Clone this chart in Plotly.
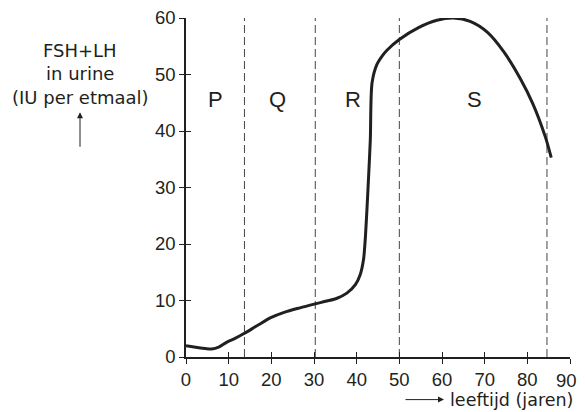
import plotly.graph_objects as go

# Data
leeftijd = [0, 3, 4.5, 6, 7.8, 9.5, 11.5, 13.7, 17, 20, 23, 26.7, 30.3, 33, 35.4,
            37.7, 39.7, 40.8, 41.6, 42.0, 42.4, 42.8, 43.2, 43.6, 44.7, 46.0,
            47.1, 50.0, 54.5, 58.8, 62.7, 66.6, 70.6, 74.5, 78.4, 81.3, 84.2, 85.6]
fsh_lh = [2.0, 1.65, 1.5, 1.4, 1.8, 2.6, 3.3, 4.2, 5.7, 7.0, 7.9, 8.7, 9.4, 9.9, 10.4,
          11.3, 12.8, 14.5, 17.2, 20.7, 26.0, 32.0, 38.5, 48.5, 51.7, 53.3,
          54.3, 56.2, 58.3, 59.6, 60.0, 59.4, 57.5, 54.0, 49.2, 44.8, 39.0, 35.3]

fase_grenzen = [13.7, 30.3, 50, 84.6]
fase_labels = ["P", "Q", "R", "S"]
fase_label_x = [6.8, 21.5, 39.2, 67.6]
fase_label_y = 45.5

x_ticks = list(range(0, 91, 10))
x_ticktext = [str(v) for v in x_ticks[:-1]] + [""]   # last label drawn as annotation
x_last_label = str(x_ticks[-1])
y_ticks = list(range(0, 61, 10))

INK = "#231f20"
FONT = "DejaVu Sans, Arial, sans-serif"
TICKFONT = "Liberation Sans, Arial, sans-serif"

fig = go.Figure()
fig.add_trace(go.Scatter(x=leeftijd, y=fsh_lh, mode="lines",
                         line=dict(color=INK, width=3, shape="spline", smoothing=0.8),
                         hoverinfo="skip", showlegend=False, cliponaxis=False))
# invisible trace for overlay axes (inside tick halves)
fig.add_trace(go.Scatter(x=[0], y=[0], xaxis="x2", yaxis="y2", mode="markers",
                         marker=dict(opacity=0), showlegend=False, hoverinfo="skip"))

shapes = []
for g in fase_grenzen:
    shapes.append(dict(type="line", xref="x", yref="y", x0=g, x1=g, y0=0, y1=60,
                       line=dict(color="#444444", width=1, dash="8px,4px"), layer="below"))

annotations = []
for lab, lx in zip(fase_labels, fase_label_x):
    annotations.append(dict(x=lx, y=fase_label_y, xref="x", yref="y", text=lab,
                            showarrow=False, font=dict(size=22, color=INK, family=TICKFONT)))

# plot-area geometry (reference pixels); page has 8px body offset
L = 186
W = 384
B = 357.3
H = 339.8
OFF = 8
FIG_W = 585 - OFF
FIG_H = 412 - OFF
def px(xp):
    return (xp - L) / W
def py(yp):
    return (B - yp) / H

# last x tick label, nudged left so it stays inside the visible page
annotations.append(dict(x=x_ticks[-1], y=0, xref="x", yref="y", text=x_last_label,
                        showarrow=False, xanchor="center", yanchor="top",
                        xshift=-4, yshift=-11,
                        font=dict(size=18.5, color=INK, family=TICKFONT)))

for txt, yy in [("FSH+LH", 50), ("in urine", 73.5), ("(IU per etmaal)", 97)]:
    annotations.append(dict(x=px(80), y=py(yy), xref="paper", yref="paper", text=txt,
                            showarrow=False, xanchor="center", yanchor="middle",
                            font=dict(size=18, color=INK, family=FONT)))
annotations.append(dict(x=px(80), y=py(112), xref="paper", yref="paper", text="",
                        showarrow=True, ax=0, ay=36,
                        arrowhead=2, arrowsize=1.2, arrowwidth=1, arrowcolor=INK))
# x-axis title
annotations.append(dict(x=px(444), y=py(400), xref="paper", yref="paper", text="",
                        showarrow=True, ax=-40, ay=0,
                        arrowhead=2, arrowsize=1.2, arrowwidth=1, arrowcolor=INK))
annotations.append(dict(x=px(448), y=py(400), xref="paper", yref="paper",
                        text="leeftijd (jaren)", showarrow=False,
                        xanchor="left", yanchor="middle",
                        font=dict(size=17.5, color=INK, family=FONT)))

axis_common = dict(showgrid=False, zeroline=False, ticklen=5, tickwidth=1.3,
                   tickcolor=INK, showline=True, linecolor=INK, linewidth=1.5,
                   ticklabeloverflow="allow", automargin=False,
                   tickfont=dict(size=18.5, color=INK, family=TICKFONT))

fig.update_layout(
    width=FIG_W, height=FIG_H,
    margin=dict(l=L - OFF, r=FIG_W - (L - OFF) - W, t=B - H - OFF, b=FIG_H - (B - OFF),
                pad=0, autoexpand=False),
    paper_bgcolor="white", plot_bgcolor="white",
    showlegend=False,
    shapes=shapes, annotations=annotations,
    xaxis=dict(range=[0, 90], tickvals=x_ticks, ticktext=x_ticktext, ticks="outside",
               **axis_common),
    yaxis=dict(range=[0, 60], tickvals=y_ticks, ticks="outside", **axis_common),
    xaxis2=dict(range=[0, 90], tickvals=x_ticks, ticks="inside", overlaying="x",
                showticklabels=False, showgrid=False, zeroline=False, ticklen=5,
                tickwidth=1.3, tickcolor=INK, showline=False, anchor="y2", automargin=False),
    yaxis2=dict(range=[0, 60], tickvals=y_ticks, ticks="inside", overlaying="y",
                showticklabels=False, showgrid=False, zeroline=False, ticklen=5,
                tickwidth=1.3, tickcolor=INK, showline=False, anchor="x2", automargin=False),
)

fig.write_html("out.html")
